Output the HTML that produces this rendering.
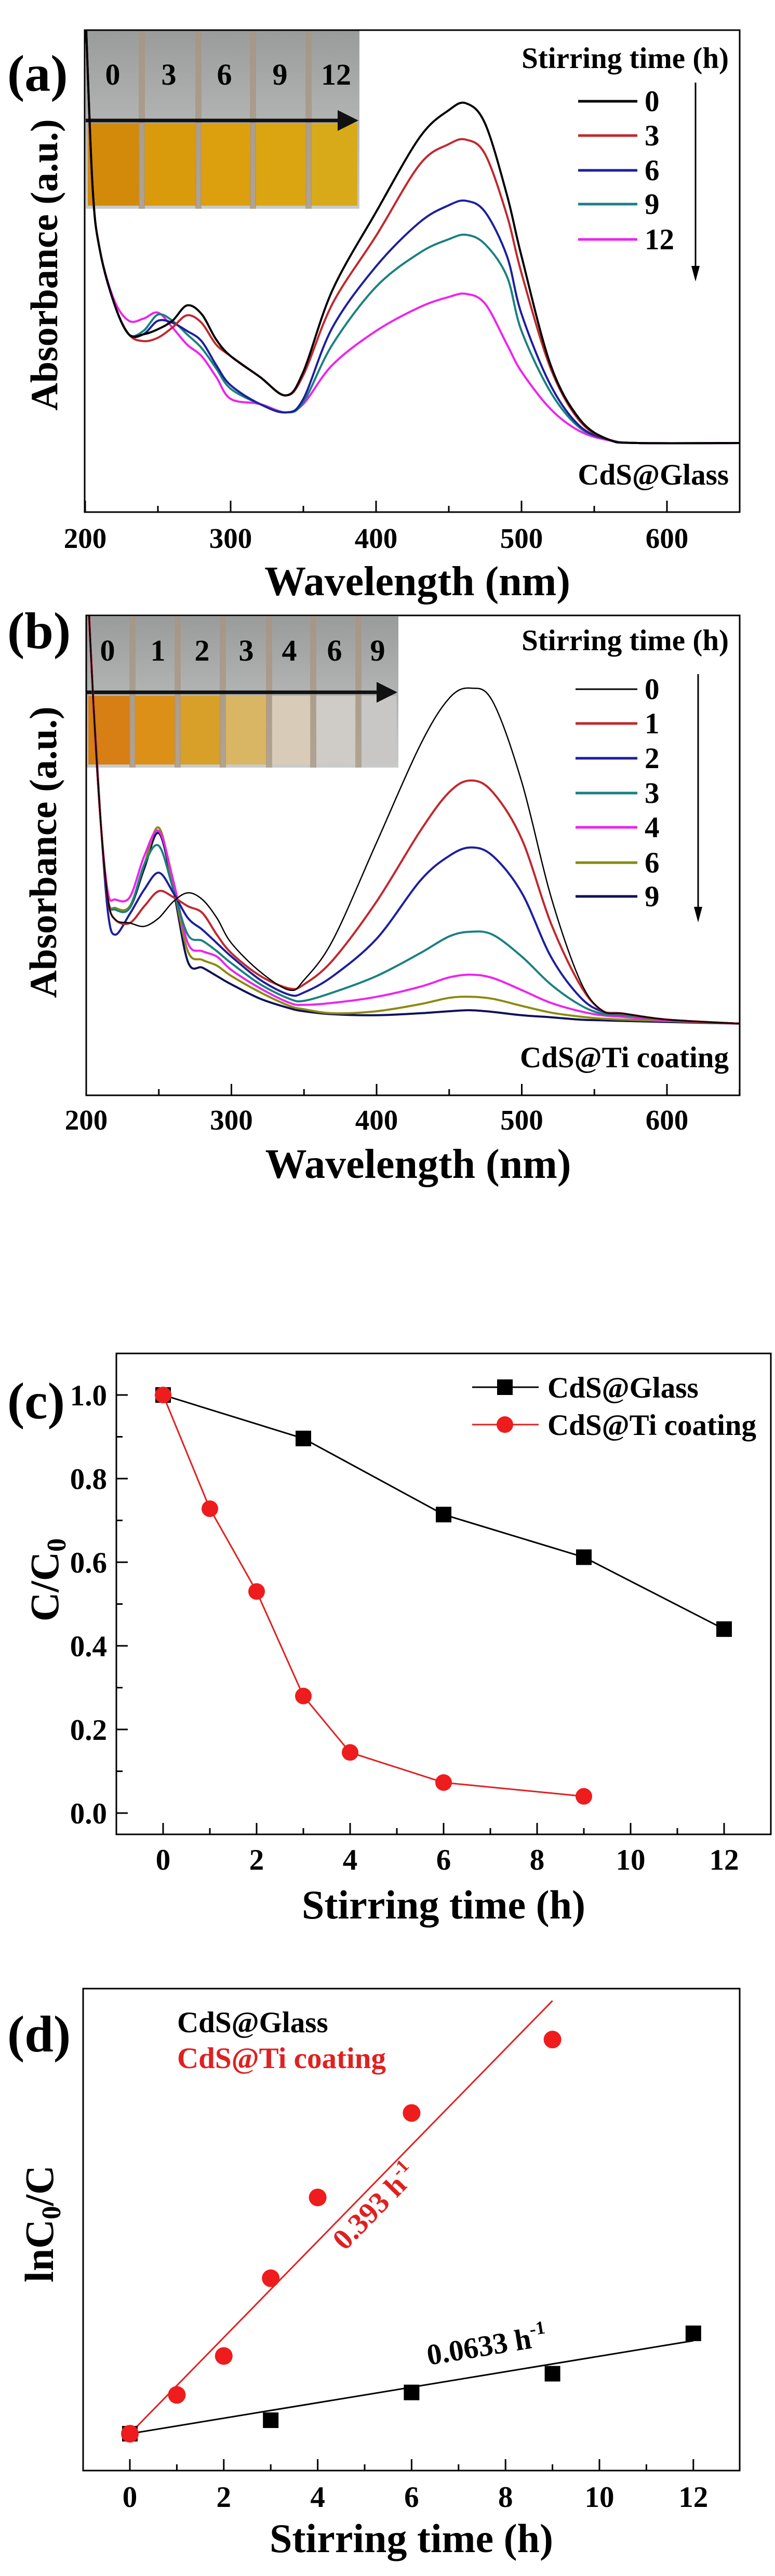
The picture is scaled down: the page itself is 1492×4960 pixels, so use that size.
<!DOCTYPE html>
<html><head><meta charset="utf-8"><style>
html,body{margin:0;padding:0;background:#fff;}
svg{display:block;}
text{font-family:"Liberation Serif",serif;font-weight:bold;fill:#000;}
</style></head><body>
<svg id="fig" width="1492" height="4960" viewBox="0 0 1492 4960" xmlns="http://www.w3.org/2000/svg">
<defs>
<clipPath id="clipA"><rect x="163" y="58" width="1261" height="928"/></clipPath>
<clipPath id="clipB"><rect x="167" y="1185" width="1257" height="924"/></clipPath>
<linearGradient id="glassTop" x1="0" y1="0" x2="0" y2="1"><stop offset="0" stop-color="#9a9c9c"/><stop offset="1" stop-color="#c9cbcb"/></linearGradient>
</defs>
<g id="root"></g>
</svg>
<script>
// ---------- DATA ----------
// Panel (a)
const wlA = [200,205,210,220,230,240,250,260,270,280,290,300,320,338,350,370,400,430,450,462,475,490,500,520,540,560,580,650];
const labelsA = ["0","3","6","9","12"];
const colorsA = ["#000000","#c0282d","#1d1f9c","#1a8080","#ee22ee"];
const a0  = [1.3,0.76,0.57,0.41,0.32,0.32,0.335,0.36,0.405,0.38,0.305,0.256,0.195,0.14,0.21,0.45,0.68,0.90,0.98,1.0,0.94,0.73,0.55,0.23,0.07,0.01,0.0,0.0];
const a3  = [1.3,0.76,0.57,0.41,0.32,0.30,0.31,0.34,0.376,0.354,0.29,0.256,0.195,0.14,0.20,0.41,0.61,0.82,0.88,0.893,0.85,0.67,0.50,0.22,0.065,0.01,0.0,0.0];
const a6  = [1.3,0.76,0.57,0.41,0.32,0.32,0.36,0.354,0.33,0.30,0.23,0.17,0.115,0.09,0.13,0.34,0.52,0.65,0.70,0.713,0.68,0.55,0.38,0.17,0.05,0.01,0.0,0.0];
const a9  = [1.3,0.76,0.57,0.41,0.32,0.33,0.378,0.36,0.32,0.28,0.22,0.16,0.115,0.09,0.12,0.29,0.46,0.56,0.60,0.613,0.585,0.49,0.33,0.15,0.045,0.01,0.0,0.0];
const a12 = [1.3,0.76,0.57,0.42,0.36,0.366,0.384,0.34,0.29,0.256,0.195,0.13,0.115,0.09,0.115,0.23,0.33,0.40,0.43,0.439,0.41,0.29,0.21,0.10,0.035,0.008,0.0,0.0];
const seriesA = [a0,a3,a6,a9,a12];

// Panel (b)
const wlB = [200,205,210,215,220,230,240,250,260,270,280,290,300,320,340,350,370,400,430,450,465,480,500,520,540,555,570,600,650];
const labelsB = ["0","1","2","3","4","6","9"];
const colorsB = ["#000000","#c0282d","#1d1f9c","#1a8080","#ee22ee","#8a8a10","#10105a"];
const b0 = [1.4,0.95,0.6,0.37,0.31,0.30,0.29,0.315,0.364,0.39,0.37,0.315,0.24,0.154,0.10,0.13,0.25,0.54,0.83,0.97,1.0,0.96,0.72,0.38,0.13,0.04,0.03,0.012,0.0];
const b1 = [1.4,0.95,0.6,0.37,0.31,0.30,0.35,0.395,0.377,0.35,0.33,0.265,0.21,0.142,0.105,0.117,0.19,0.364,0.574,0.69,0.725,0.69,0.55,0.30,0.117,0.04,0.03,0.012,0.0];
const b2 = [1.4,0.95,0.6,0.33,0.265,0.327,0.40,0.45,0.39,0.315,0.28,0.24,0.20,0.13,0.086,0.093,0.142,0.253,0.426,0.50,0.525,0.50,0.39,0.20,0.08,0.037,0.03,0.012,0.0];
const b3 = [1.4,0.95,0.6,0.37,0.34,0.345,0.475,0.53,0.40,0.265,0.247,0.216,0.18,0.117,0.074,0.068,0.093,0.142,0.21,0.26,0.274,0.265,0.20,0.117,0.056,0.03,0.025,0.012,0.0];
const b4 = [1.4,0.95,0.6,0.39,0.37,0.377,0.50,0.574,0.426,0.24,0.216,0.20,0.16,0.105,0.062,0.056,0.062,0.08,0.11,0.138,0.146,0.136,0.10,0.062,0.037,0.025,0.02,0.01,0.0];
const b6 = [1.4,0.95,0.6,0.37,0.345,0.35,0.475,0.584,0.41,0.216,0.19,0.173,0.142,0.093,0.053,0.043,0.031,0.037,0.058,0.077,0.08,0.074,0.053,0.033,0.021,0.015,0.012,0.008,0.0];
const b9 = [1.4,0.95,0.6,0.37,0.34,0.345,0.463,0.568,0.40,0.185,0.167,0.142,0.117,0.074,0.046,0.037,0.028,0.025,0.031,0.037,0.04,0.035,0.025,0.019,0.012,0.01,0.008,0.005,0.0];
const seriesB = [b0,b1,b2,b3,b4,b6,b9];

// Panel (c)
const timeGlass = [0,3,6,9,12];
const ratioGlass = [1.0,0.896,0.714,0.612,0.44];
const timeTi = [0,1,2,3,4,6,9];
const ratioTi = [1.0,0.728,0.53,0.28,0.145,0.073,0.04];
const ticksCY = ["0.0","0.2","0.4","0.6","0.8","1.0"];
const ticksX = ["0","2","4","6","8","10","12"];

// Panel (d)
const lnGlass = [0,0.11,0.337,0.49,0.82];
const lnTi = [0,0.317,0.635,1.27,1.93,2.62,3.22];
const kGlass = 0.0633;
const kTi = 0.393;

// ---------- HELPERS ----------
const NS="http://www.w3.org/2000/svg";
const root=document.getElementById('root');
function mk(tag,attrs,parent,txt){const e=document.createElementNS(NS,tag);for(const k in attrs)e.setAttribute(k,attrs[k]);if(txt!==undefined)e.textContent=txt;(parent||root).appendChild(e);return e;}
function smooth(pts){let d="M"+pts[0][0].toFixed(1)+","+pts[0][1].toFixed(1);
 for(let i=0;i<pts.length-1;i++){const p0=pts[i-1]||pts[i],p1=pts[i],p2=pts[i+1],p3=pts[i+2]||p2;
  const c1=[p1[0]+(p2[0]-p0[0])/6,p1[1]+(p2[1]-p0[1])/6],c2=[p2[0]-(p3[0]-p1[0])/6,p2[1]-(p3[1]-p1[1])/6];
  d+=" C"+c1[0].toFixed(1)+","+c1[1].toFixed(1)+" "+c2[0].toFixed(1)+","+c2[1].toFixed(1)+" "+p2[0].toFixed(1)+","+p2[1].toFixed(1);}
 return d;}

// ---------- SPECTRUM PANEL ----------
function spectrum(cfg){
 const g=mk('g',{});
 
 
 const xs=w=>cfg.x200+(w-200)*cfg.pxPerNm;
 const ys=v=>cfg.y0-v*cfg.pxPerUnit;
 const ph=mk('g',{},g);
 
 
 mk('rect',{x:cfg.inset[0],y:cfg.inset[1],width:cfg.inset[2]-cfg.inset[0],height:cfg.inset[3]-cfg.inset[1],fill:'url(#glassTop)'},ph);
 let edges=[cfg.inset[0]].concat(cfg.tubeEdges).concat([cfg.inset[2]]);
 for(let i=0;i<cfg.liquid.length;i++){
  mk('rect',{x:edges[i]+4,y:cfg.liquidTop,width:edges[i+1]-edges[i]-8,height:cfg.inset[3]-cfg.liquidTop-6,fill:cfg.liquid[i]},ph);
 }
 cfg.tubeEdges.forEach(e=>mk('rect',{x:e-6,y:cfg.inset[1],width:12,height:cfg.inset[3]-cfg.inset[1],fill:'#a89580',opacity:0.75},ph));
 cfg.photoLabels.forEach((t,i)=>{const tx=mk('text',{x:cfg.photoLabelX[i],y:cfg.photoLabelY,'font-size':58,'text-anchor':'middle'},ph,t);
  });
 mk('line',{x1:cfg.inset[0],y1:cfg.arrowY,x2:cfg.inset[2]-30,y2:cfg.arrowY,stroke:'#111',"stroke-width":7},ph);
 mk('path',{d:`M${cfg.inset[2]-2},${cfg.arrowY} L${cfg.inset[2]-42},${cfg.arrowY-20} L${cfg.inset[2]-42},${cfg.arrowY+20} Z`,fill:'#111'},ph);
 const cg=mk('g',{'clip-path':cfg.clip},g);
 for(let s=cfg.series.length-1;s>=0;s--){
  const pts=cfg.wl.map((w,i)=>[xs(w),ys(cfg.series[s][i])]);
  const p=mk('path',{d:smooth(pts),fill:'none',stroke:cfg.colors[s],'stroke-width':s===0&&cfg.thinFirst?2.5:4},cg);
  
  
 }
 const fr=mk('rect',{x:cfg.frame[0],y:cfg.frame[1],width:cfg.frame[2]-cfg.frame[0],height:cfg.frame[3]-cfg.frame[1],fill:'none',stroke:'#000','stroke-width':3},g);
 
 for(let w=200;w<=650;w+=50){const x=xs(w);mk('line',{x1:x,y1:cfg.frame[3],x2:x,y2:cfg.frame[3]-(w%100===0?22:12),stroke:'#000','stroke-width':3},g);}
 [200,300,400,500,600].forEach(w=>{const t=mk('text',{x:xs(w),y:cfg.tickY,'font-size':55,'text-anchor':'middle'},g,String(w));
  });
 const xt=mk('text',{x:(cfg.frame[0]+cfg.frame[2])/2+10,y:cfg.titleY,'font-size':80,'text-anchor':'middle'},g,'Wavelength (nm)');
 
 const yt=mk('text',{x:0,y:0,'font-size':74,'text-anchor':'middle',transform:`translate(${cfg.yTitleX},${cfg.yTitleY}) rotate(-90)`},g,'Absorbance (a.u.)');
 
 const pl=mk('text',{x:14,y:cfg.panelY,'font-size':100},g,cfg.panel);
 
 const lg=mk('g',{},g);
 
 mk('text',{x:1403,y:cfg.legHeadY,'font-size':57,'text-anchor':'end'},lg,'Stirring time (h)');
 cfg.labels.forEach((l,i)=>{const y=cfg.legRows[i];
  const e=mk('g',{},lg);
  mk('line',{x1:cfg.legX1,y1:y,x2:cfg.legX2,y2:y,stroke:cfg.colors[i],'stroke-width':i===0&&cfg.thinFirst?3:5},e);
  mk('text',{x:cfg.legX2+14,y:y+19,'font-size':57},e,l);});
 mk('line',{x1:cfg.arrX,y1:cfg.arrY1,x2:cfg.arrX,y2:cfg.arrY2-20,stroke:'#000','stroke-width':3},lg);
 mk('path',{d:`M${cfg.arrX},${cfg.arrY2} L${cfg.arrX-8},${cfg.arrY2-30} L${cfg.arrX+8},${cfg.arrY2-30} Z`,fill:'#000'},lg);
 const sl=mk('text',{x:1403,y:cfg.sampleY,'font-size':57,'text-anchor':'end'},g,cfg.sample);
 
}

spectrum({name:'panel-a',panel:'(a)',panelY:175,x200:164,pxPerNm:2.8,y0:853,pxPerUnit:654,clip:'url(#clipA)',
 frame:[163,58,1424,986],tickY:1055,titleY:1146,yTitleX:110,yTitleY:510,
 wl:wlA,series:seriesA,colors:colorsA,labels:labelsA,thinFirst:false,
 inset:[165,58,692,402],tubeEdges:[273,382,487,594],liquidTop:237,arrowY:232,
 liquid:['#d38a0a','#d99a0c','#dc9f0e','#dba512','#d8aa1a'],
 photoLabels:['0','3','6','9','12'],photoLabelX:[217,325,432,539,647],photoLabelY:163,
 legHeadY:131,legRows:[195,261,328,393,461],legX1:1113,legX2:1227,arrX:1339,arrY1:159,arrY2:542,
 sample:'CdS@Glass',sampleY:933});

spectrum({name:'panel-b',panel:'(b)',panelY:1248,x200:166,pxPerNm:2.795,y0:1971,pxPerUnit:646,clip:'url(#clipB)',
 frame:[166,1185,1424,2109],tickY:2175,titleY:2268,yTitleX:108,yTitleY:1641,
 wl:wlB,series:seriesB,colors:colorsB,labels:labelsB,thinFirst:true,
 inset:[166,1187,767,1478],tubeEdges:[255,342,429,518,603,690],liquidTop:1340,arrowY:1333,
 liquid:['#d77e14','#dc9018','#d8a028','#d9b664','#d8ccb8','#cfcbc6','#c9c7c5'],
 photoLabels:['0','1','2','3','4','6','9'],photoLabelX:[207,304,389,474,557,644,727],photoLabelY:1272,
 legHeadY:1252,legRows:[1327,1393,1460,1527,1593,1661,1726],legX1:1108,legX2:1227,arrX:1344,arrY1:1298,arrY2:1776,
 sample:'CdS@Ti coating',sampleY:2055});

// ---------- PANEL C ----------
(function(){
 const g=mk('g',{});
 const L=224,R=1484,T=2606,B=3532;
 const xs=t=>314+t*90, ys=v=>3491-v*805;
 const fr=mk('rect',{x:L,y:T,width:R-L,height:B-T,fill:'none',stroke:'#000','stroke-width':3},g);
 
 for(let t=0;t<=12;t++)mk('line',{x1:xs(t),y1:B,x2:xs(t),y2:B-(t%2===0?22:12),stroke:'#000','stroke-width':3},g);
 for(let v=0;v<=10;v++)mk('line',{x1:L,y1:ys(v/10),x2:L+(v%2===0?22:12),y2:ys(v/10),stroke:'#000','stroke-width':3},g);
 ticksX.forEach(t=>{const e=mk('text',{x:xs(+t),y:3600,'font-size':57,'text-anchor':'middle'},g,t);});
 ticksCY.forEach(t=>{const e=mk('text',{x:206,y:ys(+t)+20,'font-size':57,'text-anchor':'end'},g,t);});
 const xt=mk('text',{x:854,y:3694,'font-size':78,'text-anchor':'middle'},g,'Stirring time (h)');
 const yt=mk('text',{x:0,y:0,'font-size':78,'text-anchor':'middle',transform:'translate(112,3042) rotate(-90)'},g);
 
 yt.innerHTML='C/C<tspan font-size="52" dy="14">0</tspan>';
 const pl=mk('text',{x:14,y:2731,'font-size':100},g,'(c)');
 const pg=mk('polyline',{points:timeGlass.map((t,i)=>xs(t)+','+ys(ratioGlass[i])).join(' '),fill:'none',stroke:'#000','stroke-width':3},g);
 
 const pt=mk('polyline',{points:timeTi.map((t,i)=>xs(t)+','+ys(ratioTi[i])).join(' '),fill:'none',stroke:'#e02020','stroke-width':3},g);
 
 timeGlass.forEach((t,i)=>{const m=mk('rect',{x:xs(t)-15,y:ys(ratioGlass[i])-15,width:30,height:30,fill:'#000'},g);});
 timeTi.forEach((t,i)=>{const m=mk('circle',{cx:xs(t),cy:ys(ratioTi[i]),r:16,fill:'#ee1c1c'},g);});
 const lg=mk('g',{},g);
 mk('line',{x1:909,y1:2671,x2:1037,y2:2671,stroke:'#000','stroke-width':3},lg);
 mk('rect',{x:957,y:2656,width:30,height:30,fill:'#000'},lg);
 mk('text',{x:1054,y:2691,'font-size':57},lg,'CdS@Glass');
 mk('line',{x1:909,y1:2743,x2:1037,y2:2743,stroke:'#e02020','stroke-width':3},lg);
 mk('circle',{cx:972,cy:2743,r:16,fill:'#ee1c1c'},lg);
 mk('text',{x:1054,y:2763,'font-size':57},lg,'CdS@Ti coating');
})();

// ---------- PANEL D ----------
(function(){
 const g=mk('g',{});
 const L=160,R=1424,T=3829,B=4757;
 const xs=t=>250+t*90.4, ys=v=>4686-v*235.7;
 const fr=mk('rect',{x:L,y:T,width:R-L,height:B-T,fill:'none',stroke:'#000','stroke-width':3},g);
 
 for(let t=0;t<=12;t++)mk('line',{x1:xs(t),y1:B,x2:xs(t),y2:B-(t%2===0?22:12),stroke:'#000','stroke-width':3},g);
 ticksX.forEach(t=>{const e=mk('text',{x:xs(+t),y:4827,'font-size':57,'text-anchor':'middle'},g,t);});
 const xt=mk('text',{x:792,y:4914,'font-size':78,'text-anchor':'middle'},g,'Stirring time (h)');
 const yt=mk('text',{x:0,y:0,'font-size':78,'text-anchor':'middle',transform:'translate(102,4282) rotate(-90)'},g);
 
 yt.innerHTML='lnC<tspan font-size="52" dy="14">0</tspan><tspan dy="-14">/C</tspan>';
 const pl=mk('text',{x:14,y:3950,'font-size':100},g,'(d)');
 const f1=mk('line',{x1:xs(0),y1:ys(0),x2:xs(12),y2:ys(kGlass*12),stroke:'#000','stroke-width':3},g);
 
 const f2=mk('line',{x1:xs(0),y1:ys(0),x2:xs(9),y2:ys(kTi*9),stroke:'#e02020','stroke-width':3},g);
 
 timeGlass.forEach((t,i)=>{const m=mk('rect',{x:xs(t)-15,y:ys(lnGlass[i])-15,width:30,height:30,fill:'#000'},g);});
 timeTi.forEach((t,i)=>{const m=mk('circle',{cx:xs(t),cy:ys(lnTi[i]),r:17,fill:'#ee1c1c'},g);});
 const a1=Math.atan(kTi*235.7/90.4)*180/Math.PI;
 const r1=mk('text',{x:0,y:0,'font-size':57,'text-anchor':'middle',fill:'#e02020',style:'fill:#e02020',transform:`translate(735,4262) rotate(${-a1})`},g);
 
 r1.innerHTML='0.393 h<tspan font-size="36" dy="-24">-1</tspan>';
 const a2=Math.atan(kGlass*235.7/90.4)*180/Math.PI;
 const r2=mk('text',{x:0,y:0,'font-size':57,'text-anchor':'middle',transform:`translate(940,4535) rotate(${-a2})`},g);
 
 r2.innerHTML='0.0633 h<tspan font-size="36" dy="-24">-1</tspan>';
 const l1=mk('text',{x:341,y:3913,'font-size':57},g,'CdS@Glass');
 const l2=mk('text',{x:341,y:3982,'font-size':57,style:'fill:#e02020'},g,'CdS@Ti coating');
})();
</script>
</body></html>
